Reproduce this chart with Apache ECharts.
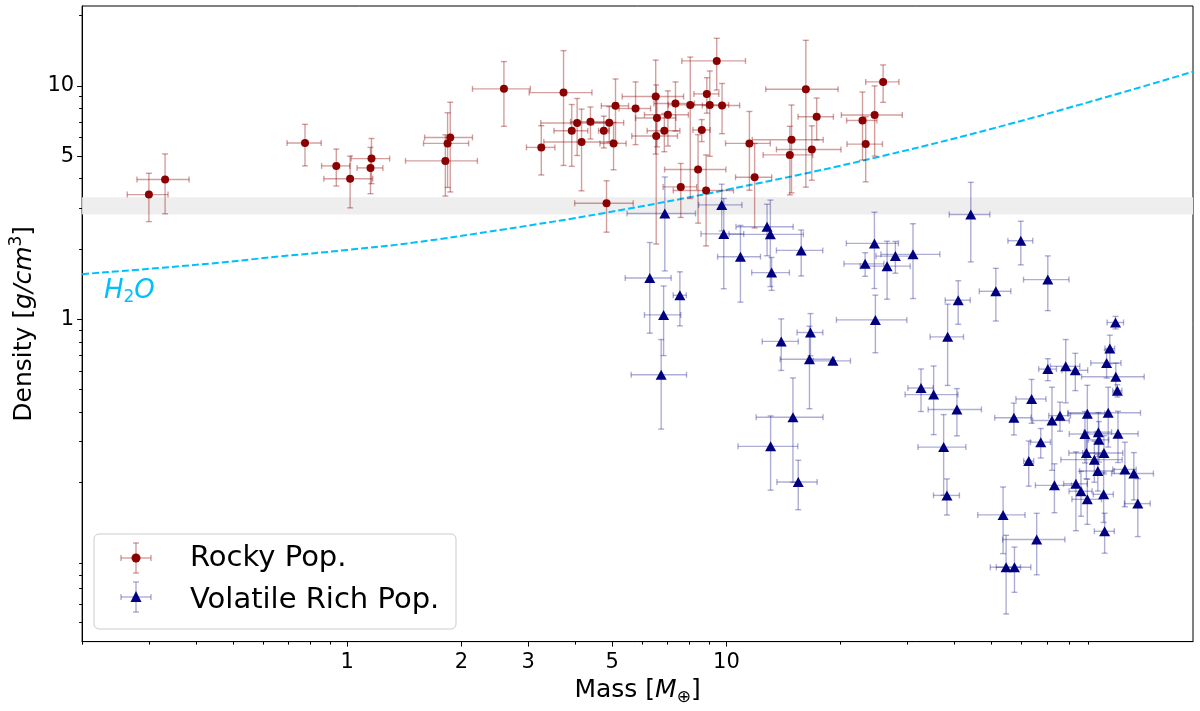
<!DOCTYPE html>
<html>
<head>
<meta charset="utf-8">
<script src="https://cdn.jsdelivr.net/npm/echarts@6.0.0/dist/echarts.min.js"></script>
<style>
html, body { margin: 0; padding: 0; background: #fff; }
#chart { width: 1200px; height: 711px; }
</style>
</head>
<body>
<div id="chart"></div>
<script>
// rocky population: mass [M_earth], 1-sigma mass error, density [g/cm3], density error
var rockyMass    = [0.30, 0.331, 0.774, 0.936, 1.018, 1.159, 1.152, 1.87, 1.84, 1.815,
                    2.59, 3.72, 3.25, 4.04, 3.91, 4.38, 4.15, 4.75, 4.91, 5.10,
                    5.04, 5.76, 6.51, 6.56, 7.01, 6.86, 6.53, 7.34, 8.03, 8.88,
                    9.04, 9.74, 9.43, 8.61, 8.42, 7.58, 8.84, 4.83, 11.5, 11.87,
                    16.2, 17.3, 14.85, 16.8, 14.7, 25.9, 24.6, 22.85, 23.3];
var rockyMassErr = [0.037, 0.052, 0.08, 0.08, 0.15, 0.135, 0.09, 0.27, 0.25, 0.39,
                    0.45, 0.7, 0.28, 0.8, 0.4, 0.5, 0.85, 0.15, 0.45, 0.42,
                    0.4, 0.55, 1.2, 0.8, 0.93, 0.68, 0.9, 0.9, 1.0, 0.67,
                    1.1, 1.1, 1.8, 0.45, 1.55, 0.77, 1.6, 0.85, 1.55, 1.3,
                    3.5, 1.85, 3.15, 3.25, 2.2, 2.6, 4.5, 2.1, 2.5];
var rockyDens    = [3.42, 3.97, 5.69, 4.54, 4.00, 4.88, 4.45, 6.01, 5.67, 4.77,
                    9.71, 9.36, 5.45, 6.93, 6.42, 7.02, 5.75, 6.42, 6.95, 8.21,
                    5.67, 8.00, 9.00, 7.28, 7.52, 6.42, 6.10, 8.40, 8.29, 9.24,
                    8.29, 8.24, 12.8, 6.47, 4.38, 3.69, 3.56, 3.14, 5.67, 4.06,
                    9.68, 7.37, 5.88, 5.34, 5.06, 10.4, 7.50, 7.11, 5.63];
var rockyDensErr = [0.8, 1.14, 1.15, 0.82, 1.0, 1.07, 1.0, 2.5, 2.0, 1.4,
                    3.0, 4.8, 1.3, 1.9, 1.9, 1.1, 2.2, 1.0, 1.2, 2.5,
                    1.3, 2.4, 3.9, 1.8, 2.0, 1.2, 4.0, 2.0, 5.0, 1.6,
                    3.3, 2.0, 3.2, 0.7, 1.8, 0.96, 1.5, 0.78, 2.1, 1.6,
                    6.0, 1.5, 2.4, 1.4, 1.65, 1.9, 2.5, 2.3, 1.75];

// volatile rich population
var volMass    = [6.88, 9.72, 9.84, 10.89, 12.8, 13.06, 15.75, 13.16, 6.28, 7.54,
                  6.83, 6.73, 13.95, 16.66, 16.56, 19.09, 14.98, 13.08, 15.47, 24.57,
                  23.22, 26.53, 27.9, 31.05, 24.71, 44.1, 59.75, 70.4, 51.35, 40.86,
                  38.32, 32.6, 35.2, 40.54, 37.4, 38.16, 53.66, 106.2, 102.6, 100.6,
                  106.4, 107.4, 70.4, 78.5, 83.2, 63.8, 57.3, 72.2, 75.8, 89.5,
                  101.6, 107.8, 88.2, 95.7, 96.0, 67.45, 62.7, 89.0, 99.0, 93.4,
                  95.4, 112.4, 118.7, 73.3, 83.5, 86.1, 89.5, 98.8, 121.6, 99.4,
                  65.8, 54.65, 57.5];
var volMassErr = [1.41, 1.27, 1.27, 1.41, 2.2, 2.9, 2.2, 1.5, 0.87, 0.3,
                  0.75, 1.12, 1.52, 1.3, 2.7, 2.15, 3.0, 2.35, 1.88, 3.85,
                  2.8, 4.0, 3.1, 5.5, 5.2, 5.4, 4.5, 9.65, 4.9, 3.1,
                  3.87, 2.5, 5.6, 6.5, 5.4, 3.0, 7.65, 5.3, 3.0, 9.2,
                  20, 3.0, 3.8, 7.0, 6.5, 5.8, 6.3, 8.0, 5.0, 10,
                  22, 14, 8.0, 8.0, 6.0, 4.1, 1.9, 9.0, 12, 17.2,
                  10, 8.0, 15, 8.0, 6.0, 6.0, 8.0, 6.0, 9.5, 6.0,
                  12.3, 5.0, 6.0];
var volDens    = [2.84, 3.09, 2.32, 1.853, 2.49, 2.31, 1.972, 1.584, 1.501, 1.266,
                  1.043, 0.578, 0.803, 0.877, 0.673, 0.663, 0.380, 0.285, 0.2005, 2.113,
                  1.727, 1.688, 1.864, 1.896, 0.993, 2.81, 2.169, 1.478, 1.317, 1.206,
                  0.840, 0.507, 0.475, 0.410, 0.283, 0.1757, 0.1449, 0.968, 0.749, 0.649,
                  0.567, 0.494, 0.611, 0.628, 0.604, 0.455, 0.378, 0.368, 0.386, 0.393,
                  0.397, 0.323, 0.322, 0.328, 0.304, 0.297, 0.2465, 0.267, 0.267, 0.250,
                  0.2234, 0.227, 0.218, 0.194, 0.197, 0.183, 0.169, 0.1775, 0.162, 0.1233,
                  0.1137, 0.0865, 0.0865];
var volDensErr = [1.23, 0.7, 0.97, 0.67, 0.62, 0.93, 0.44, 0.255, 0.63, 0.33,
                  0.345, 0.24, 0.2, 0.18, 0.26, 0.0, 0.18, 0.1, 0.048, 0.76,
                  0.2, 0.47, 0.29, 0.67, 0.275, 1.05, 0.46, 0.39, 0.335, 0.255,
                  0.32, 0.105, 0.155, 0.094, 0.107, 0.031, 0.046, 0.06, 0.105, 0.09,
                  0.08, 0.03, 0.066, 0.19, 0.11, 0.097, 0.059, 0.143, 0.055, 0.128,
                  0.114, 0.08, 0.08, 0.07, 0.06, 0.043, 0.054, 0.06, 0.05, 0.05,
                  0.04, 0.07, 0.05, 0.046, 0.073, 0.04, 0.037, 0.043, 0.045, 0.024,
                  0.0335, 0.032, 0.019];

// pure water composition curve
var h2oMass = [0.2, 0.4, 0.67, 1.0, 1.5, 2.56, 4.7, 10.3, 25.6, 66, 170];
var h2oDens = [1.56, 1.71, 1.86, 1.98, 2.13, 2.42, 2.84, 3.62, 4.99, 7.39, 11.5];

// grey band of densities
var bandDens = [2.81, 3.33];

var xTicks = [1, 2, 3, 5, 10];
var xMinorTicks = [0.2, 0.3, 0.4, 0.5, 0.6, 0.7, 0.8, 0.9, 4, 6, 7, 8, 9, 20, 30, 40, 50, 60, 70, 80, 90];
var yTicks = [1, 5, 10];
var yMinorTicks = [0.05, 0.06, 0.07, 0.08, 0.09, 0.2, 0.3, 0.4, 0.5, 0.6, 0.7, 0.8, 0.9, 2, 3, 4, 6, 7, 8, 9, 20];

var xMin = 0.2, xMax = 170, yMin = 0.0415, yMax = 22;
var FONT = 'DejaVu Sans';

function lg(v) { return Math.log10(v); }

function errorRows(mass, massErr, dens, densErr) {
    var rows = [];
    for (var i = 0; i < mass.length; i++) {
        var mlo = mass[i] - massErr[i];
        var dlo = dens[i] - densErr[i];
        rows.push([lg(mass[i]), lg(dens[i]),
                   lg(Math.max(mlo, xMin / 10)), lg(mass[i] + massErr[i]),
                   lg(Math.max(dlo, yMin / 10)), lg(dens[i] + densErr[i])]);
    }
    return rows;
}

function pointRows(mass, dens) {
    return mass.map(function (m, i) { return [lg(m), lg(dens[i])]; });
}

function makeBars(color) {
    return function (params, api) {
        var cs = params.coordSys;
        var left = cs.x, right = cs.x + cs.width, top = cs.y, bottom = cs.y + cs.height;
        var c = api.coord([api.value(0), api.value(1)]);
        var xl = api.coord([api.value(2), api.value(1)])[0];
        var xr = api.coord([api.value(3), api.value(1)])[0];
        var yb = api.coord([api.value(0), api.value(4)])[1];
        var yt = api.coord([api.value(0), api.value(5)])[1];
        var cap = 3;
        var kids = [];
        function seg(x1, y1, x2, y2) {
            kids.push({ type: 'line', shape: { x1: x1, y1: y1, x2: x2, y2: y2 },
                        style: { stroke: color, lineWidth: 1.4 } });
        }
        seg(Math.max(xl, left), c[1], Math.min(xr, right), c[1]);
        seg(c[0], Math.min(yb, bottom), c[0], Math.max(yt, top));
        if (xl >= left) seg(xl, c[1] - cap, xl, c[1] + cap);
        if (xr <= right) seg(xr, c[1] - cap, xr, c[1] + cap);
        if (yt >= top) seg(c[0] - cap, yt, c[0] + cap, yt);
        if (yb <= bottom) seg(c[0] - cap, yb, c[0] + cap, yb);
        return { type: 'group', children: kids };
    };
}

function legendIcon(cx, cy, barColor, marker) {
    var items = [];
    var s = 15, cap = 3;
    var lines = [[cx - s, cy, cx + s, cy], [cx, cy - s, cx, cy + s],
                 [cx - s, cy - cap, cx - s, cy + cap], [cx + s, cy - cap, cx + s, cy + cap],
                 [cx - cap, cy - s, cx + cap, cy - s], [cx - cap, cy + s, cx + cap, cy + s]];
    lines.forEach(function (l) {
        items.push({ type: 'line', z: 101, shape: { x1: l[0], y1: l[1], x2: l[2], y2: l[3] },
                     style: { stroke: barColor, lineWidth: 1.4 } });
    });
    items.push(marker);
    return items;
}

var rockyBar = 'rgba(139,0,0,0.38)';
var volBar = 'rgba(0,0,128,0.32)';

var graphics = [
    { type: 'rect', z: 100, shape: { x: 94, y: 534, width: 362, height: 95, r: 5 },
      style: { fill: 'rgba(255,255,255,0.8)', stroke: '#cccccc', lineWidth: 1 } },
    { type: 'text', z: 101, x: 190, y: 558,
      style: { text: 'Rocky Pop.', fontSize: 29, fontFamily: FONT, fill: '#000', verticalAlign: 'middle' } },
    { type: 'text', z: 101, x: 190, y: 600,
      style: { text: 'Volatile Rich Pop.', fontSize: 29, fontFamily: FONT, fill: '#000', verticalAlign: 'middle' } },
    { type: 'text', z: 50, x: 104, y: 291,
      style: { text: '{i|H}{s|2}{i|O}', fill: '#00BFFF', verticalAlign: 'middle',
               rich: { i: { fontSize: 26, fontStyle: 'italic', fontFamily: FONT, lineHeight: 30, fill: '#00BFFF' },
                       s: { fontSize: 17, fontFamily: FONT, lineHeight: 14, verticalAlign: 'bottom', fill: '#00BFFF' } } } }
].concat(legendIcon(136, 558, rockyBar,
            { type: 'circle', z: 102, shape: { cx: 136, cy: 558, r: 4.5 }, style: { fill: '#8B0000' } }))
 .concat(legendIcon(136, 597, volBar,
            { type: 'polygon', z: 102, shape: { points: [[136, 591], [130.5, 602], [141.5, 602]] }, style: { fill: '#000080' } }));

var tickLabel = { fontFamily: FONT, fontSize: 21, color: '#000' };

var chart = echarts.init(document.getElementById('chart'));
chart.setOption({
    animation: false,
    backgroundColor: '#fff',
    grid: { left: 79, right: 7, top: 6, bottom: 68, show: true, borderColor: '#000', borderWidth: 1, backgroundColor: 'transparent' },
    xAxis: [{
        type: 'value', position: 'bottom', min: lg(xMin), max: lg(xMax),
        splitLine: { show: false },
        axisLine: { onZero: false, lineStyle: { color: '#000', width: 1 } },
        axisTick: { customValues: xTicks.map(lg), length: 5, lineStyle: { color: '#000' } },
        axisLabel: Object.assign({ customValues: xTicks.map(lg), margin: 10,
            formatter: function (v) { return String(Math.round(Math.pow(10, v))); } }, tickLabel),
        name: '{n|Mass [}{i|M}{s|⊕}{n|]}',
        nameLocation: 'middle', nameGap: 32,
        nameTextStyle: { fontFamily: FONT, fontSize: 25, color: '#000',
            rich: { n: { fontFamily: FONT, fontSize: 25, lineHeight: 32 },
                    i: { fontFamily: FONT, fontSize: 25, fontStyle: 'italic', lineHeight: 32 },
                    s: { fontFamily: FONT, fontSize: 17, lineHeight: 14, verticalAlign: 'bottom' } } }
    }, {
        type: 'value', position: 'bottom', min: lg(xMin), max: lg(xMax),
        splitLine: { show: false }, axisLine: { show: false, onZero: false }, axisLabel: { show: false },
        axisTick: { customValues: xMinorTicks.map(lg), length: 3, lineStyle: { color: '#000' } }
    }],
    yAxis: [{
        type: 'value', position: 'left', min: lg(yMin), max: lg(yMax),
        splitLine: { show: false },
        axisLine: { show: true, onZero: false, lineStyle: { color: '#000', width: 1 } },
        axisTick: { show: true, customValues: yTicks.map(lg), length: 5, lineStyle: { color: '#000' } },
        axisLabel: Object.assign({ customValues: yTicks.map(lg), margin: 8,
            formatter: function (v) { return String(Math.round(Math.pow(10, v))); } }, tickLabel),
        name: '{n|Density [}{i|g/cm}{p|3}{n|]}',
        nameLocation: 'middle', nameGap: 37,
        nameTextStyle: { fontFamily: FONT, fontSize: 25, color: '#000',
            rich: { n: { fontFamily: FONT, fontSize: 25, lineHeight: 32 },
                    i: { fontFamily: FONT, fontSize: 25, fontStyle: 'italic', lineHeight: 32 },
                    p: { fontFamily: FONT, fontSize: 17, lineHeight: 14, verticalAlign: 'top' } } }
    }, {
        type: 'value', position: 'left', min: lg(yMin), max: lg(yMax),
        splitLine: { show: false }, axisLine: { show: false, onZero: false }, axisLabel: { show: false },
        axisTick: { show: true, customValues: yMinorTicks.map(lg), length: 3, lineStyle: { color: '#000' } }
    }],
    graphic: graphics,
    series: [{
        name: 'H2O', type: 'line', xAxisIndex: 0, yAxisIndex: 0,
        data: pointRows(h2oMass, h2oDens), smooth: 0.4, showSymbol: false, z: 1,
        lineStyle: { color: '#00BFFF', width: 2, type: [7, 3] },
        markArea: { silent: true, itemStyle: { color: '#eeeeee' },
                    data: [[{ yAxis: lg(bandDens[0]) }, { yAxis: lg(bandDens[1]) }]] }
    }, {
        name: 'Rocky Pop. bars', type: 'custom', xAxisIndex: 0, yAxisIndex: 0, z: 2,
        renderItem: makeBars(rockyBar),
        encode: { x: 0, y: 1 },
        data: errorRows(rockyMass, rockyMassErr, rockyDens, rockyDensErr)
    }, {
        name: 'Rocky Pop.', type: 'scatter', xAxisIndex: 0, yAxisIndex: 0, z: 3,
        symbol: 'circle', symbolSize: 8, itemStyle: { color: '#8B0000', opacity: 1 },
        data: pointRows(rockyMass, rockyDens)
    }, {
        name: 'Volatile Rich Pop. bars', type: 'custom', xAxisIndex: 0, yAxisIndex: 0, z: 4,
        renderItem: makeBars(volBar),
        encode: { x: 0, y: 1 },
        data: errorRows(volMass, volMassErr, volDens, volDensErr)
    }, {
        name: 'Volatile Rich Pop.', type: 'scatter', xAxisIndex: 0, yAxisIndex: 0, z: 5,
        symbol: 'triangle', symbolSize: [11, 10], itemStyle: { color: '#000080', opacity: 1 },
        data: pointRows(volMass, volDens)
    }]
});
</script>
</body>
</html>
